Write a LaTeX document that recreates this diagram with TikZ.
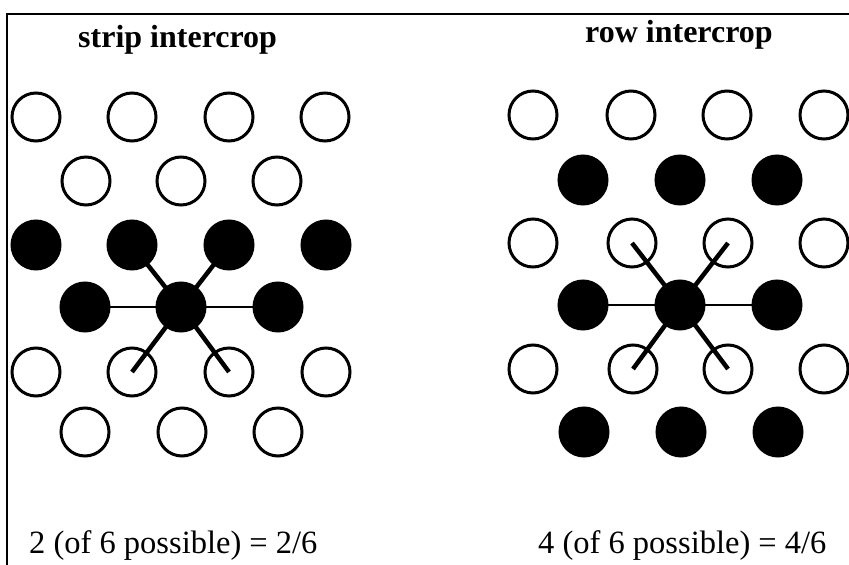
\documentclass[tikz,border=0pt]{standalone}
\usepackage{fontspec}
\setmainfont{Liberation Serif}
\begin{document}
\begin{tikzpicture}[x=1pt,y=-1pt,
  open/.style={circle,draw=black,line width=3pt,minimum size=48pt,inner sep=0pt},
  full/.style={circle,draw=black,fill=black,line width=3pt,minimum size=48pt,inner sep=0pt},
  thin spoke/.style={line width=2pt},
  thick spoke/.style={line width=4.5pt,line cap=butt},
  title/.style={anchor=base west,inner sep=0pt,font=\fontsize{32}{38}\selectfont\bfseries},
  caption/.style={anchor=base west,inner sep=0pt,font=\fontsize{32.5}{38}\selectfont}]
\useasboundingbox (0,0) rectangle (849,565);
\fill[white] (0,0) rectangle (849,565);
% frame
\coordinate (fb) at (7,565);
\coordinate (ft) at (7,14);
\coordinate (fr) at (849,14);
\draw[line width=2pt] (fb) -- (ft) -- (fr);
% titles
\node[title] (t1) at (78,47) {strip intercrop};
\node[title] (t2) at (585,42) {row intercrop};
% captions
\node[caption] (c1) at (29,553) {2 (of 6 possible) = 2/6};
\node[caption] (c2) at (538,553) {4 (of 6 possible) = 4/6};
% ---------- left panel ----------
\node[open] (L11) at (36,117) {};
\node[open] (L12) at (132,117) {};
\node[open] (L13) at (229,117) {};
\node[open] (L14) at (325,117) {};
\node[open] (L21) at (86,181) {};
\node[open] (L22) at (181,181) {};
\node[open] (L23) at (277,181) {};
\node[full] (L31) at (36,245) {};
\node[full] (L32) at (132,245) {};
\node[full] (L33) at (229,245) {};
\node[full] (L34) at (326,245) {};
\node[full] (L41) at (85,307) {};
\node[full] (L42) at (181,307) {};
\node[full] (L43) at (278,307) {};
\node[open] (L51) at (36,372) {};
\node[open] (L52) at (132,372) {};
\node[open] (L53) at (229,372) {};
\node[open] (L54) at (326,372) {};
\node[open] (L61) at (85,432) {};
\node[open] (L62) at (182,432) {};
\node[open] (L63) at (278,432) {};
\draw[thin spoke] (L41.center) -- (L42.center) -- (L43.center);
\draw[thick spoke] (L42.center) -- (L32.center);
\draw[thick spoke] (L42.center) -- (L33.center);
\draw[thick spoke] (L42.center) -- (L52.center);
\draw[thick spoke] (L42.center) -- (L53.center);
% ---------- right panel ----------
\node[open] (R11) at (533,115) {};
\node[open] (R12) at (631,115) {};
\node[open] (R13) at (727,115) {};
\node[open] (R14) at (824,115) {};
\node[full] (R21) at (583,180) {};
\node[full] (R22) at (680,180) {};
\node[full] (R23) at (777,180) {};
\node[open] (R31) at (533,243) {};
\node[open] (R32) at (632,243) {};
\node[open] (R33) at (728,243) {};
\node[open] (R34) at (824,243) {};
\node[full] (R41) at (583,305) {};
\node[full] (R42) at (680,305) {};
\node[full] (R43) at (777,305) {};
\node[open] (R51) at (533,369) {};
\node[open] (R52) at (633,369) {};
\node[open] (R53) at (728,369) {};
\node[open] (R54) at (824,369) {};
\node[full] (R61) at (584,432) {};
\node[full] (R62) at (681,432) {};
\node[full] (R63) at (778,432) {};
\draw[thin spoke] (R41.center) -- (R42.center) -- (R43.center);
\draw[thick spoke] (R42.center) -- (R32.center);
\draw[thick spoke] (R42.center) -- (R33.center);
\draw[thick spoke] (R42.center) -- (R52.center);
\draw[thick spoke] (R42.center) -- (R53.center);
\end{tikzpicture}
\end{document}
